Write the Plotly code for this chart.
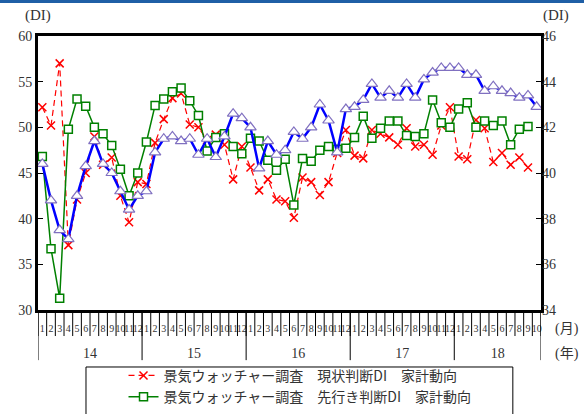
import plotly.graph_objects as go

# ---- data -------------------------------------------------------------
years = ["14", "15", "16", "17", "18"]
months_per_year = [12, 12, 12, 12, 10]
month_labels = [str(m) for n in months_per_year for m in range(1, n + 1)]

# 景気ウォッチャー調査 現状判断DI 家計動向 (left axis)
current_di = [
    52.2, 50.2, 57.0, 37.1, 42.1, 45.0, 49.0, 45.9, 46.7, 42.5, 39.6, 44.0,
    43.8, 48.3, 50.9, 53.2, 53.7, 50.3, 50.0, 48.6, 49.2, 48.1, 44.3, 47.9,
    45.6, 43.1, 44.3, 42.1, 41.9, 40.1, 44.5, 44.0, 42.6, 44.0, 47.2, 49.7,
    46.9, 46.6, 49.7, 49.3, 48.9, 48.1, 49.9, 47.9, 48.1, 47.0, 50.2, 52.2,
    46.8, 46.5, 50.8, 49.9, 46.2, 47.2, 45.9, 46.7, 45.6,
]

# 景気ウォッチャー調査 先行き判断DI 家計動向 (left axis)
outlook_di = [
    46.8, 36.7, 31.3, 49.8, 53.1, 52.3, 50.0, 49.3, 48.0, 45.4, 42.5, 45.0,
    48.4, 52.4, 53.1, 53.9, 54.3, 52.9, 51.3, 47.4, 48.9, 49.3, 47.9, 47.1,
    48.8, 48.5, 46.4, 45.3, 46.5, 41.5, 46.6, 46.3, 47.5, 47.9, 47.6, 47.7,
    48.9, 51.2, 48.8, 49.9, 50.7, 50.7, 49.1, 49.0, 49.3, 53.0, 50.5, 50.0,
    52.0, 52.7, 50.0, 50.7, 50.2, 50.7, 48.1, 49.8, 50.1,
]

# 消費者態度指数 (right axis)
consumer_idx = [
    40.4, 38.8, 37.5, 37.1, 39.0, 40.3, 41.4, 40.4, 40.0, 39.2, 38.4, 39.0,
    39.2, 40.9, 41.5, 41.6, 41.4, 41.5, 40.8, 41.5, 40.7, 41.6, 42.6, 42.4,
    42.0, 40.2, 41.4, 40.8, 41.0, 41.8, 41.5, 42.0, 43.0, 42.3, 40.9, 42.8,
    42.9, 43.2, 43.9, 43.3, 43.6, 43.3, 43.9, 43.3, 44.1, 44.4, 44.6, 44.6,
    44.6, 44.3, 44.3, 43.6, 43.8, 43.6, 43.5, 43.3, 43.4, 42.9,
]

# ---- positions derived from the month layout ---------------------------
n_months = len(month_labels)
x_all = list(range(n_months))
month_bounds = [i - 0.5 for i in range(n_months + 1)]
year_bounds, year_centers = [-0.5], []
start = 0
for n in months_per_year:
    year_centers.append(start + (n - 1) / 2)
    start += n
    year_bounds.append(start - 0.5)

SERIF = "Liberation Serif, Noto Sans CJK JP, serif"
CJK = "Noto Sans CJK JP, sans-serif"
TXT = "#333333"

fig = go.Figure()

fig.add_trace(go.Scatter(
    x=x_all[:len(current_di)], y=current_di,
    name="景気ウォッチャー調査　現状判断DI　家計動向",
    mode="lines+markers",
    line=dict(color="#ff0000", width=1.2, dash="6px,4px"),
    marker=dict(symbol="x-thin", size=8, line=dict(color="#ff0000", width=1.5)),
    xaxis="x", yaxis="y",
))
fig.add_trace(go.Scatter(
    x=x_all[:len(outlook_di)], y=outlook_di,
    name="景気ウォッチャー調査　先行き判断DI　家計動向",
    mode="lines+markers",
    line=dict(color="#008000", width=1.5),
    marker=dict(symbol="square", size=8, color="white",
                line=dict(color="#008000", width=1.5)),
    xaxis="x", yaxis="y",
))
fig.add_trace(go.Scatter(
    x=x_all[:len(consumer_idx)], y=consumer_idx,
    name="消費者態度指数",
    mode="lines+markers",
    line=dict(color="#0000ff", width=2.5),
    marker=dict(symbol="triangle-up", size=10, color="white",
                line=dict(color="#8070c0", width=1.2)),
    xaxis="x", yaxis="y2", showlegend=False,
))

# empty traces so the month-label and year-label axes get drawn
for ax in ("x2", "x3"):
    fig.add_trace(go.Scatter(
        x=x_all, y=[None] * n_months, xaxis=ax, yaxis="y",
        mode="lines", showlegend=False, hoverinfo="skip",
    ))

xrange = [-0.5, n_months - 0.5]
overlay = dict(range=xrange, overlaying="x", anchor="y", side="bottom",
               showgrid=False, zeroline=False, showline=False,
               automargin=False, tickangle=0)


def hanging_lines(positions, depth):
    """Vertical separators hanging below the x axis (depth in paper units)."""
    return [
        dict(type="line", xref="x", yref="paper", x0=b, x1=b, y0=0, y1=-depth,
             line=dict(color="black", width=1))
        for b in positions
    ]


fig.update_layout(
    width=584, height=414,
    margin=dict(l=38, r=43, t=36, b=104, autoexpand=False),
    paper_bgcolor="white", plot_bgcolor="white",
    showlegend=True,
    # frame
    xaxis=dict(
        range=xrange, showgrid=False, zeroline=False, automargin=False,
        showline=True, linewidth=3, linecolor="black", mirror=True,
        ticks="", showticklabels=False,
    ),
    # month numbers
    xaxis2=dict(
        **overlay,
        tickmode="array", tickvals=x_all, ticktext=month_labels,
        ticks="outside", ticklen=9, tickcolor="rgba(0,0,0,0)",
        tickfont=dict(family=SERIF, size=10, color=TXT),
    ),
    # year numbers
    xaxis3=dict(
        **overlay,
        tickmode="array", tickvals=year_centers, ticktext=years,
        ticks="outside", ticklen=30, tickcolor="rgba(0,0,0,0)",
        tickfont=dict(family=SERIF, size=14, color=TXT),
    ),
    yaxis=dict(
        range=[30, 60], tick0=30, dtick=5, showgrid=False, zeroline=False,
        showline=True, linewidth=3, linecolor="black", mirror=True,
        ticks="inside", ticklen=5, tickcolor="black", automargin=False,
        tickfont=dict(family=SERIF, size=14, color=TXT),
    ),
    yaxis2=dict(
        range=[34, 46], tick0=34, dtick=2, overlaying="y", side="right",
        showgrid=False, zeroline=False, showline=False, automargin=False,
        ticks="inside", ticklen=5, tickcolor="black",
        tickfont=dict(family=SERIF, size=14, color=TXT),
    ),
    legend=dict(
        x=0.17, y=-0.182, xanchor="left", yanchor="top",
        bgcolor="rgba(0,0,0,0)", borderwidth=0,
        font=dict(family=CJK, size=14, color=TXT),
    ),
    shapes=hanging_lines(month_bounds, 0.095) + hanging_lines(year_bounds, 0.183) + [
        # thin blue band across the top edge
        dict(type="rect", xref="paper", yref="paper",
             x0=-0.08, x1=1.09, y0=1.1204, y1=1.14,
             fillcolor="#1f5fa6", line=dict(width=0), layer="above"),
        # legend frame, running past the bottom edge
        dict(type="rect", xref="paper", yref="paper",
             x0=0.0954, x1=0.944, y0=-0.208, y1=-0.5,
             fillcolor="rgba(0,0,0,0)", line=dict(color="black", width=1)),
    ],
    annotations=[
        dict(text="(DI)", xref="paper", yref="paper", x=0.0, y=1.073,
             xanchor="center", yanchor="middle", showarrow=False,
             font=dict(family=SERIF, size=15, color=TXT)),
        dict(text="(DI)", xref="paper", yref="paper", x=1.03, y=1.073,
             xanchor="center", yanchor="middle", showarrow=False,
             font=dict(family=SERIF, size=15, color=TXT)),
        dict(text="(月)", xref="paper", yref="paper", x=1.052, y=-0.069,
             xanchor="center", yanchor="middle", showarrow=False,
             font=dict(family=SERIF, size=14, color=TXT)),
        dict(text="(年)", xref="paper", yref="paper", x=1.052, y=-0.161,
             xanchor="center", yanchor="middle", showarrow=False,
             font=dict(family=SERIF, size=14, color=TXT)),
    ],
)

fig.write_html("out.html")
